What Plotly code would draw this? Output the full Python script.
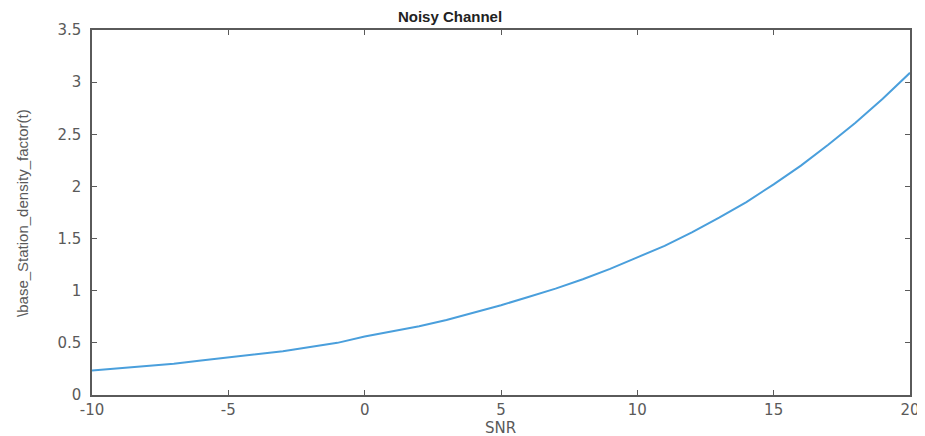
import plotly.graph_objects as go

snr = list(range(-10, 21))
density = [0.235, 0.255, 0.28, 0.30, 0.33, 0.36, 0.39, 0.42, 0.46, 0.50,
           0.56, 0.61, 0.66, 0.72, 0.79, 0.86, 0.94, 1.02, 1.11, 1.21,
           1.32, 1.43, 1.56, 1.70, 1.85, 2.02, 2.20, 2.40, 2.61, 2.84, 3.09]

x_ticks = [-10, -5, 0, 5, 10, 15, 20]
x_tick_text = ["-10", "-5", "0", "5", "10", "15", "20"]
y_ticks = [0, 0.5, 1, 1.5, 2, 2.5, 3, 3.5]
y_tick_text = ["0", "0.5", "1", "1.5", "2", "2.5", "3", "3.5"]

axis_color = "#5a5a5a"
font_family = "Liberation Sans, Arial, sans-serif"
tick_family = "DejaVu Sans, Liberation Sans, Arial"

fig = go.Figure()
fig.add_trace(go.Scatter(x=snr, y=density, mode="lines",
                         line=dict(color="#4a9fdc", width=2), showlegend=False))

# page has an 8px body margin, so the figure is sized/offset to compensate
fig.update_layout(
    width=917, height=428,
    margin=dict(l=84, r=15, t=22, b=41, autoexpand=False),
    paper_bgcolor="white", plot_bgcolor="white",
    font=dict(family=font_family, color=axis_color, size=14),
    title=dict(text="<b>Noisy Channel</b>", x=0.482, xanchor="center", y=0.979, yanchor="middle",
               font=dict(size=15, color="#222222")),
    annotations=[
        dict(text="\\base_Station_density_factor(t)", textangle=-90,
             xref="paper", yref="paper", x=-0.085, y=0.50,
             xanchor="center", yanchor="middle", showarrow=False,
             font=dict(size=15, color=axis_color, family="Liberation Sans Narrow, Liberation Sans, Arial")),
        dict(text="SNR", xref="paper", yref="paper", x=0.499, y=-0.09,
             xanchor="center", yanchor="middle", showarrow=False,
             font=dict(size=15, color=axis_color, family=tick_family)),
    ],
)
fig.update_xaxes(
    range=[-10, 20], tickvals=x_ticks, ticktext=x_tick_text, ticks="inside", ticklen=5,
    tickcolor=axis_color, automargin=False,
    showline=True, linecolor=axis_color, linewidth=1.5, mirror="allticks",
    showgrid=False, zeroline=False, ticklabelstandoff=0,
    tickfont=dict(size=15, color=axis_color, family=tick_family),
)
fig.update_yaxes(
    range=[0, 3.5], tickvals=y_ticks, ticktext=y_tick_text, ticks="inside", ticklen=5,
    tickcolor=axis_color, automargin=False,
    showline=True, linecolor=axis_color, linewidth=1.5, mirror="allticks",
    showgrid=False, zeroline=False, ticklabelstandoff=6,
    tickfont=dict(size=15, color=axis_color, family=tick_family),
)

fig.write_html("out.html")
